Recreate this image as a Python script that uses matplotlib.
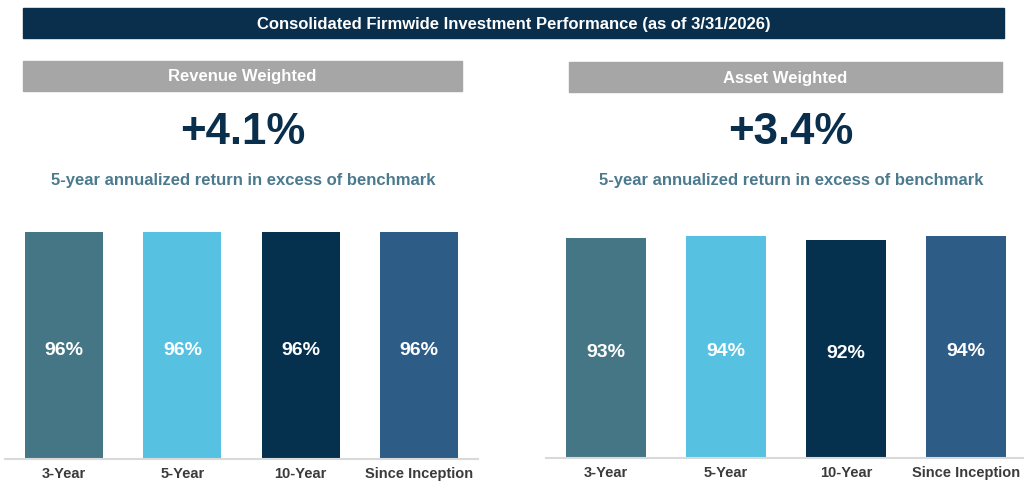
import matplotlib
matplotlib.use("Agg")
import matplotlib.pyplot as plt
from matplotlib.patches import Rectangle

# ---- data ----
periods = ["3-Year", "5-Year", "10-Year", "Since Inception"]
revenue_weighted = [96, 96, 96, 96]
asset_weighted = [93, 94, 92, 94]
revenue_excess = "+4.1%"
asset_excess = "+3.4%"
title = "Consolidated Firmwide Investment Performance (as of 3/31/2026)"
subtitle = "5-year annualized return in excess of benchmark"

bar_colors = ["#457686", "#56c1e1", "#05304e", "#2d5c86"]
NAVY = "#0a2f4d"
GREY = "#a6a6a6"
SUB = "#4b7a8e"

plt.rcParams["font.family"] = ["Liberation Sans", "DejaVu Sans"]

W, H = 1024, 482
fig = plt.figure(figsize=(W / 100, H / 100), dpi=100)


def fx(x):
    return x / W


def fy(y):
    return 1 - y / H


def band(x0, x1, y0, y1, color, text, size):
    fig.patches.append(Rectangle((fx(x0), fy(y1)), fx(x1 - x0), (y1 - y0) / H,
                                 transform=fig.transFigure, color=color, zorder=0))
    fig.text(fx((x0 + x1) / 2), fy((y0 + y1) / 2 + 1), text, ha="center", va="center",
             color="white", fontsize=size, fontweight="bold")


band(23, 1004, 8, 38, NAVY, title, 12)
band(23, 462, 61, 91, GREY, "Revenue Weighted", 12)
band(569, 1002, 62, 92, GREY, "Asset Weighted", 12)


def panel(cx, excess, x0, x1, base, values):
    fig.text(fx(cx), fy(133), excess, ha="center", va="center", color=NAVY,
             fontsize=31.5, fontweight="bold")
    fig.text(fx(cx), fy(181), subtitle, ha="center", va="center", color=SUB,
             fontsize=12, fontweight="bold")

    ax = fig.add_axes([fx(x0), fy(base), fx(x1 - x0), 236.5 / H])
    xs = range(len(values))
    bars = ax.bar(xs, values, width=0.66, color=bar_colors)
    for b, v in zip(bars, values):
        ax.text(b.get_x() + b.get_width() / 2, v / 2 - 2, f"{v}%", ha="center",
                va="center", color="white", fontsize=14, fontweight="bold")
    ax.set_xlim(-0.5, len(values) - 0.5)
    ax.set_ylim(0, 100)
    ax.set_yticks([])
    ax.set_xticks(list(xs))
    ax.set_xticklabels(periods, fontsize=10.5, fontweight="bold", color="#3b3b3b")
    ax.tick_params(axis="x", length=0, pad=5.5)
    for s in ["top", "left", "right"]:
        ax.spines[s].set_visible(False)
    ax.spines["bottom"].set_color("#d9d9d9")
    ax.spines["bottom"].set_linewidth(1.5)
    ax.patch.set_alpha(0)
    return ax


panel(243, revenue_excess, 5, 478, 459, revenue_weighted)
panel(791, asset_excess, 546, 1026, 458, asset_weighted)

fig.savefig("out.png", dpi=100, facecolor="white")
